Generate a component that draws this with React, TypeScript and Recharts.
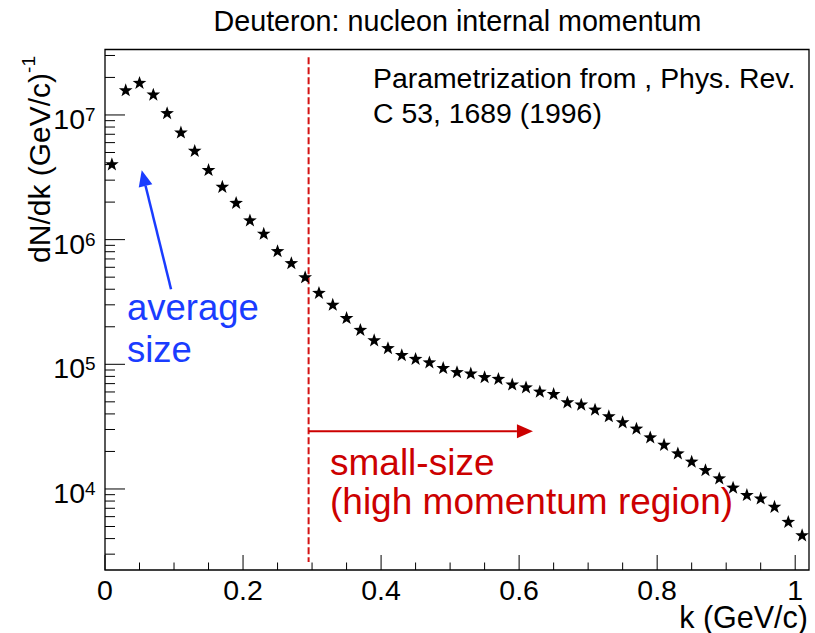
import React from 'react';
import { ScatterChart, Scatter, XAxis, YAxis, ReferenceLine, ReferenceArea } from 'recharts';

// bin centres of the momentum histogram (GeV/c)
const kBins = [
  0.01, 0.03, 0.05, 0.07, 0.09, 0.11, 0.13, 0.15, 0.17, 0.19,
  0.21, 0.23, 0.25, 0.27, 0.29, 0.31, 0.33, 0.35, 0.37, 0.39,
  0.41, 0.43, 0.45, 0.47, 0.49, 0.51, 0.53, 0.55, 0.57, 0.59,
  0.61, 0.63, 0.65, 0.67, 0.69, 0.71, 0.73, 0.75, 0.77, 0.79,
  0.81, 0.83, 0.85, 0.87, 0.89, 0.91, 0.93, 0.95, 0.97, 0.99, 1.01,
];

// dN/dk per bin, (GeV/c)^-1
const dNdk = [
  4.0e6, 1.57e7, 1.8e7, 1.45e7, 1.03e7, 7.2e6, 5.13e6, 3.6e6, 2.64e6, 1.96e6,
  1.42e6, 1.11e6, 8.05e5, 6.44e5, 4.97e5, 3.72e5, 2.99e5, 2.34e5, 1.88e5, 1.55e5,
  1.34e5, 1.18e5, 1.1e5, 1.03e5, 9.3e4, 8.6e4, 8.4e4, 7.85e4, 7.6e4, 6.85e4,
  6.5e4, 6.0e4, 5.75e4, 4.93e4, 4.73e4, 4.31e4, 3.81e4, 3.41e4, 3.03e4, 2.58e4,
  2.25e4, 1.92e4, 1.65e4, 1.41e4, 1.21e4, 1.02e4, 8.9e3, 8.35e3, 7.16e3, 5.42e3, 4.23e3,
];

const xTicks = [
  0, 0.05, 0.1, 0.15, 0.2, 0.25, 0.3, 0.35, 0.4, 0.45, 0.5,
  0.55, 0.6, 0.65, 0.7, 0.75, 0.8, 0.85, 0.9, 0.95, 1.0,
];
const xLabels: Record<string, string> = { '0': '0', '0.2': '0.2', '0.4': '0.4', '0.6': '0.6', '0.8': '0.8', '1': '1' };

const yTicks = [
  3e3, 4e3, 5e3, 6e3, 7e3, 8e3, 9e3,
  1e4, 2e4, 3e4, 4e4, 5e4, 6e4, 7e4, 8e4, 9e4,
  1e5, 2e5, 3e5, 4e5, 5e5, 6e5, 7e5, 8e5, 9e5,
  1e6, 2e6, 3e6, 4e6, 5e6, 6e6, 7e6, 8e6, 9e6,
  1e7, 2e7, 3e7,
];

// cut between average and small-size configurations
const cutK = 0.295;
const cutLine = [2.9e7, 2.6e3];
const smallArrow = { from: 0.295, to: 0.62, y: 2.9e4 };
const avgArrow = { x1: 0.0957, y1: 4.0e5, x2: 0.0532, y2: 3.6e6 };

const data = kBins.map((k, i) => ({ k, v: dNdk[i] }));

const W = 815;
const H = 633;
const LEFT = 105;
const RIGHT = 809;
const TOP = 49.5;
const BOTTOM = 570;
const X_DOMAIN: [number, number] = [0, 1.02];
const Y_DOMAIN: [number, number] = [2239, 3.35e7];
const FONT = '"Liberation Sans", Arial, Helvetica, sans-serif';
const RED = '#cc0000';
const BLUE = '#1a3cff';

const Star = (props: any) => {
  const { cx, cy } = props;
  if (cx == null || cy == null) return null;
  const R = 7.2;
  const r = 2.9;
  const pts: string[] = [];
  for (let i = 0; i < 10; i++) {
    const a = -Math.PI / 2 + (i * Math.PI) / 5;
    const rr = i % 2 === 0 ? R : r;
    pts.push(`${cx + rr * Math.cos(a)},${cy + rr * Math.sin(a)}`);
  }
  return <polygon points={pts.join(' ')} fill="#000" />;
};

const XTick = (props: any) => {
  const { x, payload } = props;
  const v = Number(payload.value);
  const key = String(Math.round(v * 100) / 100);
  const label = xLabels[key];
  const len = label ? 15 : 7.5;
  return (
    <g>
      <line x1={x} x2={x} y1={BOTTOM} y2={BOTTOM - len} stroke="#000" strokeWidth={1} />
      {label && (
        <text x={x} y={600} textAnchor="middle" fontSize={28.5} fontFamily={FONT} fill="#000">
          {label}
        </text>
      )}
    </g>
  );
};

const YTick = (props: any) => {
  const { y, payload } = props;
  const v = Number(payload.value);
  const e = Math.log10(v);
  const major = Math.abs(e - Math.round(e)) < 1e-6;
  const len = major ? 20 : 10;
  return (
    <g>
      <line x1={LEFT} x2={LEFT + len} y1={y} y2={y} stroke="#000" strokeWidth={1} />
      {major && (
        <text x={85} y={y + 14} textAnchor="end" fontSize={28.5} fontFamily={FONT} fill="#000">
          10
        </text>
      )}
      {major && (
        <text x={85} y={y + 6} fontSize={19} fontFamily={FONT} fill="#000">
          {Math.round(e)}
        </text>
      )}
    </g>
  );
};

const arrowShape = (color: string, width: number) => (props: any) => {
  const { x1, y1, x2, y2 } = props;
  const ang = Math.atan2(y2 - y1, x2 - x1);
  const L = 16;
  const hw = 7;
  const bx = x2 - L * Math.cos(ang);
  const by = y2 - L * Math.sin(ang);
  const px = -Math.sin(ang) * hw;
  const py = Math.cos(ang) * hw;
  return (
    <g>
      <line x1={x1} y1={y1} x2={bx} y2={by} stroke={color} strokeWidth={width} />
      <polygon points={`${x2},${y2} ${bx + px},${by + py} ${bx - px},${by - py}`} fill={color} />
    </g>
  );
};

export default function App() {
  return (
    <div style={{ position: 'absolute', left: 0, top: 0, width: W, height: H, background: '#fff', fontFamily: FONT }}>
      <ScatterChart
        width={W}
        height={H}
        margin={{ top: TOP, right: W - RIGHT, bottom: 0, left: 0 }}
      >
        <XAxis
          dataKey="k"
          type="number"
          domain={X_DOMAIN}
          allowDataOverflow
          ticks={xTicks}
          interval={0}
          tick={<XTick />}
          tickLine={false}
          axisLine={false}
          height={H - BOTTOM}
        />
        <YAxis
          dataKey="v"
          type="number"
          scale="log"
          domain={Y_DOMAIN}
          allowDataOverflow
          ticks={yTicks}
          interval={0}
          tick={<YTick />}
          tickLine={false}
          axisLine={false}
          width={LEFT}
        />
        <ReferenceArea
          x1={X_DOMAIN[0]}
          x2={X_DOMAIN[1]}
          y1={Y_DOMAIN[0]}
          y2={Y_DOMAIN[1]}
          fill="none"
          stroke="#000"
          strokeWidth={1.3}
          ifOverflow="visible"
        />
        <ReferenceLine
          segment={[{ x: cutK, y: cutLine[0] }, { x: cutK, y: cutLine[1] }]}
          stroke="#d41414"
          strokeWidth={2}
          strokeDasharray="7 3"
        />
        <ReferenceLine
          segment={[{ x: smallArrow.from, y: smallArrow.y }, { x: smallArrow.to, y: smallArrow.y }]}
          shape={arrowShape(RED, 2)}
        />
        <ReferenceLine
          segment={[{ x: avgArrow.x1, y: avgArrow.y1 }, { x: avgArrow.x2, y: avgArrow.y2 }]}
          shape={arrowShape(BLUE, 2.5)}
        />
        <Scatter data={data} shape={<Star />} isAnimationActive={false} />
      </ScatterChart>

      <svg
        width={W}
        height={H}
        style={{ position: 'absolute', left: 0, top: 0, pointerEvents: 'none' }}
        fontFamily={FONT}
      >
        <text x={457.5} y={31} textAnchor="middle" fontSize={28.7} fill="#000">
          Deuteron: nucleon internal momentum
        </text>
        <text x={373} y={88} fontSize={28.4} fill="#000">Parametrization from , Phys. Rev.</text>
        <text x={373} y={123} fontSize={28.4} fill="#000">C 53, 1689 (1996)</text>

        <text x={808} y={628} textAnchor="end" fontSize={30.5} fill="#000">k (GeV/c)</text>
        <text x={50} y={56} textAnchor="end" fontSize={30} fill="#000" transform="rotate(-90, 50, 56)">
          dN/dk (GeV/c)<tspan dy={-15} fontSize={19}>-1</tspan>
        </text>

        <text x={127} y={320} fontSize={36.5} fill={BLUE}>average</text>
        <text x={127} y={362} fontSize={36.5} fill={BLUE}>size</text>

        <text x={330} y={475} fontSize={37} fill={RED}>small-size</text>
        <text x={330} y={514} fontSize={37} fill={RED}>(high momentum region)</text>
      </svg>
    </div>
  );
}
